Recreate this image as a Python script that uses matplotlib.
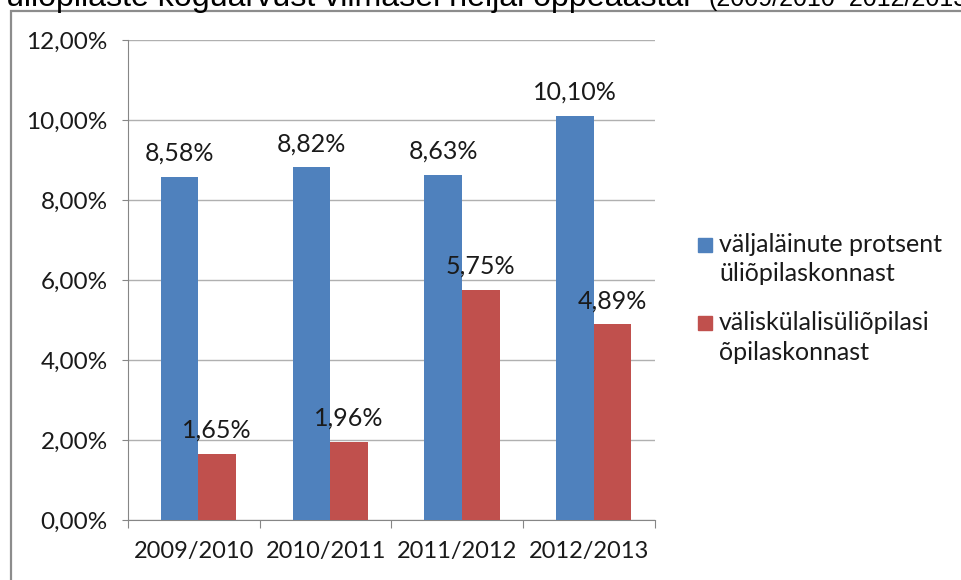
import matplotlib
matplotlib.use("Agg")
import matplotlib.pyplot as plt
from matplotlib.patches import Rectangle
import numpy as np

years = ["2009/2010", "2010/2011", "2011/2012", "2012/2013"]
valja = [8.58, 8.82, 8.63, 10.10]
valis = [1.65, 1.96, 5.75, 4.89]
series_names = [["väljaläinute protsent", "üliõpilaskonnast"],
                ["väliskülalisüliõpilasi", "õpilaskonnast"]]
colors = ["#4F81BD", "#C0504D"]
yticks = [0, 2, 4, 6, 8, 10, 12]

W, H = 962, 580
fig = plt.figure(figsize=(W / 100, H / 100), dpi=100)
plt.rcParams["font.family"] = ["Lato", "DejaVu Sans"]

# heading of the page, cut off at the top edge (as in the source)
fig.text(6 / W, 1 - 6 / H, "üliõpilaste koguarvust viimasel neljal õppeaastal",
         fontsize=23.1, family="Liberation Sans", va="baseline", ha="left")
fig.text(709 / W, 1 - 6 / H, "(2009/2010–2012/2013)",
         fontsize=18, family="Liberation Sans", va="baseline", ha="left")

# chart frame
fig.add_artist(Rectangle((11 / W, -0.1), 1.2, (H - 11) / H + 0.1,
                         transform=fig.transFigure, fill=False,
                         ec="#8c8c8c", lw=1.6))

ax = fig.add_axes([128 / W, (H - 520) / H, 527 / W, 480 / H])
x = np.arange(len(years))
bw = 0.285
off = 0.035
b1 = ax.bar(x - bw / 2 + off, valja, bw, color=colors[0], zorder=3)
b2 = ax.bar(x + bw / 2 + off, valis, bw, color=colors[1], zorder=3)

fmt = lambda v: f"{v:.2f}%".replace(".", ",")
for bars, vals in ((b1, valja), (b2, valis)):
    for r, v in zip(bars, vals):
        ax.annotate(fmt(v), (r.get_x() + r.get_width() / 2, v),
                    xytext=(0, 12), textcoords="offset pixels",
                    ha="center", va="bottom", fontsize=18, color="#1a1a1a",
                    zorder=4)

ax.set_xlim(-0.5, len(years) - 0.5)
ax.set_ylim(0, 12)
ax.set_yticks(yticks)
ax.set_yticklabels([f"{t:.2f}%".replace(".", ",") for t in yticks],
                   fontsize=17.5, color="#1a1a1a")
ax.yaxis.grid(True, color="#b0b0b0", lw=1, zorder=0)
ax.set_xticks(np.arange(len(years) + 1) - 0.5)
ax.set_xticklabels([])
ax.set_xticks(x, minor=True)
ax.set_xticklabels(years, minor=True, fontsize=17, color="#1a1a1a")
ax.tick_params(axis="x", which="major", direction="out", length=6,
               color="#868686")
ax.tick_params(axis="x", which="minor", length=0, pad=15)
ax.tick_params(axis="y", direction="out", length=4.5, color="#868686", pad=10)
for s in ("top", "right"):
    ax.spines[s].set_visible(False)
for s in ("left", "bottom"):
    ax.spines[s].set_color("#868686")

# legend: square key next to the first line of each two-line label
for i, (lines, c) in enumerate(zip(series_names, colors)):
    y0 = 245 + i * 78
    fig.add_artist(Rectangle((698 / W, 1 - (y0 + 7) / H), 14 / W, 14 / H,
                             transform=fig.transFigure, color=c))
    for j, line in enumerate(lines):
        fig.text(719 / W, 1 - (y0 + j * 29) / H, line, fontsize=18,
                 va="center", ha="left", color="#1a1a1a")

fig.savefig("out.png", dpi=100)
